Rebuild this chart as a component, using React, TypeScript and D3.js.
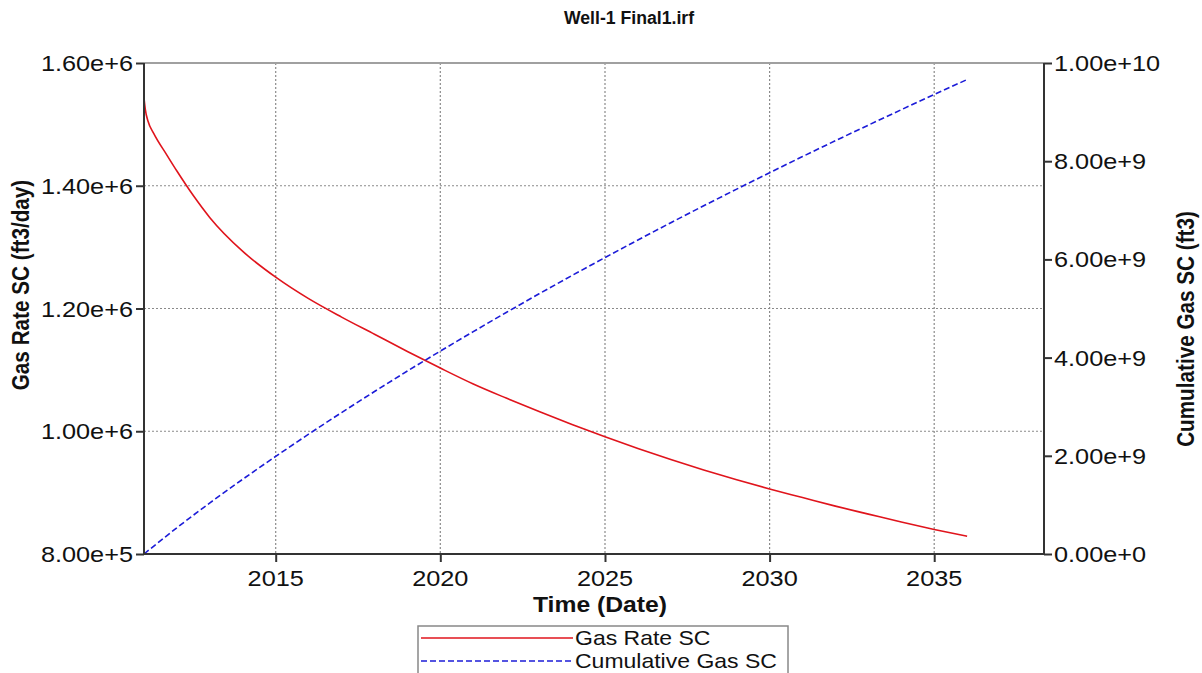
import React, { useEffect, useRef } from "react";
import * as d3 from "d3";

// ---- data ----
const rateDates = [
  "2011-01-01", "2011-01-15", "2011-02-15", "2011-04-20", "2011-09-12", "2012-01-01", "2012-07-01",
  "2013-01-01", "2014-01-01", "2015-01-01", "2016-01-01", "2017-01-01", "2018-01-01",
  "2019-01-01", "2020-01-01", "2021-01-01", "2022-01-01", "2023-01-01", "2024-01-01",
  "2025-01-01", "2026-01-01", "2027-01-01", "2028-01-01", "2029-01-01", "2030-01-01",
  "2031-01-01", "2032-01-01", "2033-01-01", "2034-01-01", "2035-01-01", "2036-01-01",
];
const gasRate = [
  1.543e6, 1.525e6, 1.505e6, 1.485e6, 1.450e6, 1.424e6, 1.384e6,
  1.348e6, 1.293e6, 1.251e6, 1.216e6, 1.186e6, 1.158e6,
  1.130e6, 1.103e6, 1.077e6, 1.054e6, 1.032e6, 1.011e6,
  0.991e6, 0.972e6, 0.954e6, 0.937e6, 0.921e6, 0.906e6,
  0.892e6, 0.878e6, 0.865e6, 0.852e6, 0.840e6, 0.829e6,
];
const cumDates = [
  "2011-01-01", "2012-01-01", "2013-01-01", "2014-01-01", "2015-01-01", "2016-01-01",
  "2017-01-01", "2018-01-01", "2019-01-01", "2020-01-01", "2021-01-01", "2022-01-01",
  "2023-01-01", "2024-01-01", "2025-01-01", "2026-01-01", "2027-01-01", "2028-01-01",
  "2029-01-01", "2030-01-01", "2031-01-01", "2032-01-01", "2033-01-01", "2034-01-01",
  "2035-01-01", "2036-01-01",
];
const cumGas = [
  0, 0.535e9, 1.041e9, 1.523e9, 1.988e9, 2.44e9,
  2.88e9, 3.309e9, 3.726e9, 4.132e9, 4.529e9, 4.918e9,
  5.299e9, 5.672e9, 6.037e9, 6.395e9, 6.747e9, 7.092e9,
  7.431e9, 7.765e9, 8.094e9, 8.417e9, 8.735e9, 9.049e9,
  9.358e9, 9.663e9,
];
const xTickYears = [2015, 2020, 2025, 2030, 2035];
const leftTicks = [8e5, 1.0e6, 1.2e6, 1.4e6, 1.6e6];
const rightTicks = [0, 2e9, 4e9, 6e9, 8e9, 1e10];
const title = "Well-1 Final1.irf";
const xTitle = "Time (Date)";
const yLeftTitle = "Gas Rate SC (ft3/day)";
const yRightTitle = "Cumulative Gas SC (ft3)";
const seriesNames = ["Gas Rate SC", "Cumulative Gas SC"];

const W = 1202, H = 673;
const M = { left: 144, right: 1044, top: 63, bottom: 554 };
const SX = 1.15; // horizontal stretch of text
const FONT = "'Liberation Sans', Arial, sans-serif";
const RED = "#e0141c";
const BLUE = "#1c1cd8";

export default function App() {
  const ref = useRef<SVGSVGElement>(null);
  useEffect(() => {
    const svg = d3.select(ref.current);
    svg.selectAll("*").remove();
    const parse = d3.utcParse("%Y-%m-%d");
    const x = d3.scaleUtc()
      .domain([parse("2011-01-01")!, parse("2038-05-03")!])
      .range([M.left, M.right]);
    const yL = d3.scaleLinear().domain([8e5, 1.6e6]).range([M.bottom, M.top]);
    const yR = d3.scaleLinear().domain([0, 1e10]).range([M.bottom, M.top]);
    const fmt = d3.format(".2e");
    const xTicks = xTickYears.map((y) => parse(`${y}-01-01`)!);

    const g = svg.append("g");
    // grid
    g.selectAll(".vg").data(xTicks).join("line")
      .attr("x1", (d) => x(d)).attr("x2", (d) => x(d))
      .attr("y1", M.top).attr("y2", M.bottom)
      .attr("stroke", "#8a8a8a").attr("stroke-width", 1.2).attr("stroke-dasharray", "2,2");
    g.selectAll(".hg").data(leftTicks.filter((t) => t > 8e5 && t < 1.6e6)).join("line")
      .attr("x1", M.left).attr("x2", M.right)
      .attr("y1", (d) => yL(d)).attr("y2", (d) => yL(d))
      .attr("stroke", "#8a8a8a").attr("stroke-width", 1.2).attr("stroke-dasharray", "2,2");
    // top border
    g.append("line").attr("x1", M.left).attr("x2", M.right).attr("y1", M.top).attr("y2", M.top)
      .attr("stroke", "#a0a0a0").attr("stroke-width", 2);

    // curves
    const rateData = rateDates.map((d, i) => [parse(d)!, gasRate[i]] as [Date, number]);
    const cumData = cumDates.map((d, i) => [parse(d)!, cumGas[i]] as [Date, number]);
    g.append("path").datum(rateData)
      .attr("d", d3.line<[Date, number]>().x((d) => x(d[0])).y((d) => yL(d[1])).curve(d3.curveMonotoneX))
      .attr("fill", "none").attr("stroke", RED).attr("stroke-width", 1.6);
    g.append("path").datum(cumData)
      .attr("d", d3.line<[Date, number]>().x((d) => x(d[0])).y((d) => yR(d[1])).curve(d3.curveMonotoneX))
      .attr("fill", "none").attr("stroke", BLUE).attr("stroke-width", 1.6).attr("stroke-dasharray", "6,3");

    const axisColor = "#333";
    g.append("line").attr("x1", M.left).attr("x2", M.left).attr("y1", M.top).attr("y2", M.bottom)
      .attr("stroke", axisColor).attr("stroke-width", 2);
    g.append("line").attr("x1", M.right).attr("x2", M.right).attr("y1", M.top).attr("y2", M.bottom)
      .attr("stroke", axisColor).attr("stroke-width", 2);
    g.append("line").attr("x1", M.left).attr("x2", M.right).attr("y1", M.bottom).attr("y2", M.bottom)
      .attr("stroke", axisColor).attr("stroke-width", 2);

    const styleAxis = (sel: any) => {
      sel.select(".domain").remove();
      sel.selectAll(".tick line").attr("stroke", axisColor).attr("stroke-width", 2);
      sel.selectAll(".tick text").remove();
    };
    g.append("g").attr("transform", `translate(${M.left},0)`)
      .call(d3.axisLeft(yL).tickValues(leftTicks).tickSize(8)).call(styleAxis);
    g.append("g").attr("transform", `translate(${M.right},0)`)
      .call(d3.axisRight(yR).tickValues(rightTicks).tickSize(8)).call(styleAxis);
    g.append("g").attr("transform", `translate(0,${M.bottom})`)
      .call(d3.axisBottom(x).tickValues(xTicks).tickSize(8)).call(styleAxis);

    const txt = (s: string, tx: number, ty: number, size: number, anchor: string, weight = "normal", rot = 0, sx = SX, sy = 1) => {
      const tr = rot === 0 ? `translate(${tx},${ty}) scale(${sx},${sy})` : `translate(${tx},${ty}) rotate(${rot}) scale(${sy},${sx})`;
      g.append("text").attr("transform", tr).attr("text-anchor", anchor)
        .attr("font-family", FONT).attr("font-size", size).attr("font-weight", weight)
        .attr("fill", "#111").text(s);
    };
    leftTicks.forEach((t) => txt(fmt(t), M.left - 11, yL(t) + 8, 22, "end"));
    rightTicks.forEach((t) => txt(fmt(t), M.right + 10, yR(t) + 8, 22, "start"));
    xTicks.forEach((t) => txt(d3.utcFormat("%Y")(t), x(t), M.bottom + 32, 22, "middle"));
    txt(title, 629, 24, 19, "middle", "bold", 0, 0.93);
    txt(xTitle, 600, 612, 21.5, "middle", "bold");
    txt(yLeftTitle, 29, 285, 23, "middle", "bold", -90, 1, 0.9);
    txt(yRightTitle, 1194, 329, 23, "middle", "bold", -90, 1, 0.9);

    // legend
    const lg = g.append("g");
    lg.append("rect").attr("x", 418).attr("y", 626).attr("width", 370).attr("height", 50)
      .attr("fill", "white").attr("stroke", "#888").attr("stroke-width", 1.5);
    lg.append("line").attr("x1", 421).attr("x2", 573).attr("y1", 638).attr("y2", 638)
      .attr("stroke", RED).attr("stroke-width", 1.6);
    lg.append("line").attr("x1", 421).attr("x2", 573).attr("y1", 661).attr("y2", 661)
      .attr("stroke", BLUE).attr("stroke-width", 1.6).attr("stroke-dasharray", "6,3");
    txt(seriesNames[0], 575, 645, 20, "start");
    txt(seriesNames[1], 575, 668, 20, "start");
  }, []);
  return (
    <svg ref={ref} width={W} height={H} style={{ position: "absolute", left: 0, top: 0, background: "white" }} />
  );
}
